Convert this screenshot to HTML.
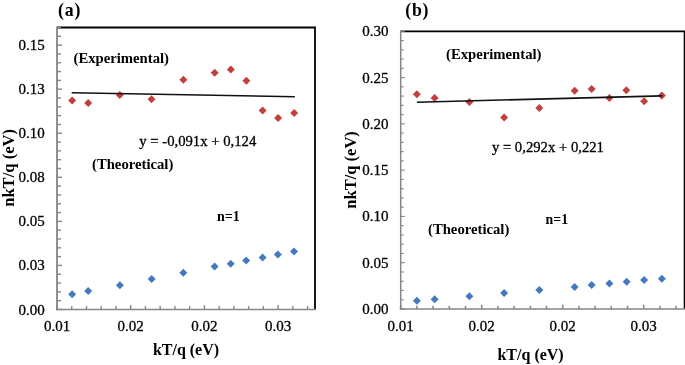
<!DOCTYPE html>
<html><head><meta charset="utf-8"><title>Chart</title>
<style>html,body{margin:0;padding:0;background:#fff;width:685px;height:365px;overflow:hidden}svg{display:block;will-change:transform}.n{stroke:#000;stroke-width:0.3px}</style>
</head><body>
<svg width="685" height="365" viewBox="0 0 685 365">
<rect width="685" height="365" fill="#fff"/>
<path d="M57.00 27.50H315.00V309.50" fill="none" stroke="#000" stroke-width="1.8"/>
<line x1="57.00" y1="309.50" x2="62.00" y2="309.50" stroke="#868686" stroke-width="1.4"/>
<line x1="57.00" y1="300.69" x2="61.00" y2="300.69" stroke="#868686" stroke-width="1.4"/>
<line x1="57.00" y1="291.88" x2="61.00" y2="291.88" stroke="#868686" stroke-width="1.4"/>
<line x1="57.00" y1="283.06" x2="61.00" y2="283.06" stroke="#868686" stroke-width="1.4"/>
<line x1="57.00" y1="274.25" x2="61.00" y2="274.25" stroke="#868686" stroke-width="1.4"/>
<line x1="57.00" y1="265.44" x2="62.00" y2="265.44" stroke="#868686" stroke-width="1.4"/>
<line x1="57.00" y1="256.62" x2="61.00" y2="256.62" stroke="#868686" stroke-width="1.4"/>
<line x1="57.00" y1="247.81" x2="61.00" y2="247.81" stroke="#868686" stroke-width="1.4"/>
<line x1="57.00" y1="239.00" x2="61.00" y2="239.00" stroke="#868686" stroke-width="1.4"/>
<line x1="57.00" y1="230.19" x2="61.00" y2="230.19" stroke="#868686" stroke-width="1.4"/>
<line x1="57.00" y1="221.38" x2="62.00" y2="221.38" stroke="#868686" stroke-width="1.4"/>
<line x1="57.00" y1="212.56" x2="61.00" y2="212.56" stroke="#868686" stroke-width="1.4"/>
<line x1="57.00" y1="203.75" x2="61.00" y2="203.75" stroke="#868686" stroke-width="1.4"/>
<line x1="57.00" y1="194.94" x2="61.00" y2="194.94" stroke="#868686" stroke-width="1.4"/>
<line x1="57.00" y1="186.12" x2="61.00" y2="186.12" stroke="#868686" stroke-width="1.4"/>
<line x1="57.00" y1="177.31" x2="62.00" y2="177.31" stroke="#868686" stroke-width="1.4"/>
<line x1="57.00" y1="168.50" x2="61.00" y2="168.50" stroke="#868686" stroke-width="1.4"/>
<line x1="57.00" y1="159.69" x2="61.00" y2="159.69" stroke="#868686" stroke-width="1.4"/>
<line x1="57.00" y1="150.88" x2="61.00" y2="150.88" stroke="#868686" stroke-width="1.4"/>
<line x1="57.00" y1="142.06" x2="61.00" y2="142.06" stroke="#868686" stroke-width="1.4"/>
<line x1="57.00" y1="133.25" x2="62.00" y2="133.25" stroke="#868686" stroke-width="1.4"/>
<line x1="57.00" y1="124.44" x2="61.00" y2="124.44" stroke="#868686" stroke-width="1.4"/>
<line x1="57.00" y1="115.62" x2="61.00" y2="115.62" stroke="#868686" stroke-width="1.4"/>
<line x1="57.00" y1="106.81" x2="61.00" y2="106.81" stroke="#868686" stroke-width="1.4"/>
<line x1="57.00" y1="98.00" x2="61.00" y2="98.00" stroke="#868686" stroke-width="1.4"/>
<line x1="57.00" y1="89.19" x2="62.00" y2="89.19" stroke="#868686" stroke-width="1.4"/>
<line x1="57.00" y1="80.38" x2="61.00" y2="80.38" stroke="#868686" stroke-width="1.4"/>
<line x1="57.00" y1="71.56" x2="61.00" y2="71.56" stroke="#868686" stroke-width="1.4"/>
<line x1="57.00" y1="62.75" x2="61.00" y2="62.75" stroke="#868686" stroke-width="1.4"/>
<line x1="57.00" y1="53.94" x2="61.00" y2="53.94" stroke="#868686" stroke-width="1.4"/>
<line x1="57.00" y1="45.12" x2="62.00" y2="45.12" stroke="#868686" stroke-width="1.4"/>
<line x1="57.00" y1="36.31" x2="61.00" y2="36.31" stroke="#868686" stroke-width="1.4"/>
<line x1="57.00" y1="27.50" x2="61.00" y2="27.50" stroke="#868686" stroke-width="1.4"/>
<line x1="57.00" y1="309.50" x2="57.00" y2="305.10" stroke="#868686" stroke-width="1.4"/>
<line x1="71.74" y1="309.50" x2="71.74" y2="306.10" stroke="#868686" stroke-width="1.4"/>
<line x1="86.48" y1="309.50" x2="86.48" y2="306.10" stroke="#868686" stroke-width="1.4"/>
<line x1="101.22" y1="309.50" x2="101.22" y2="306.10" stroke="#868686" stroke-width="1.4"/>
<line x1="115.96" y1="309.50" x2="115.96" y2="306.10" stroke="#868686" stroke-width="1.4"/>
<line x1="130.70" y1="309.50" x2="130.70" y2="305.10" stroke="#868686" stroke-width="1.4"/>
<line x1="145.44" y1="309.50" x2="145.44" y2="306.10" stroke="#868686" stroke-width="1.4"/>
<line x1="160.18" y1="309.50" x2="160.18" y2="306.10" stroke="#868686" stroke-width="1.4"/>
<line x1="174.92" y1="309.50" x2="174.92" y2="306.10" stroke="#868686" stroke-width="1.4"/>
<line x1="189.66" y1="309.50" x2="189.66" y2="306.10" stroke="#868686" stroke-width="1.4"/>
<line x1="204.40" y1="309.50" x2="204.40" y2="305.10" stroke="#868686" stroke-width="1.4"/>
<line x1="219.14" y1="309.50" x2="219.14" y2="306.10" stroke="#868686" stroke-width="1.4"/>
<line x1="233.88" y1="309.50" x2="233.88" y2="306.10" stroke="#868686" stroke-width="1.4"/>
<line x1="248.62" y1="309.50" x2="248.62" y2="306.10" stroke="#868686" stroke-width="1.4"/>
<line x1="263.36" y1="309.50" x2="263.36" y2="306.10" stroke="#868686" stroke-width="1.4"/>
<line x1="278.10" y1="309.50" x2="278.10" y2="305.10" stroke="#868686" stroke-width="1.4"/>
<line x1="292.84" y1="309.50" x2="292.84" y2="306.10" stroke="#868686" stroke-width="1.4"/>
<line x1="307.58" y1="309.50" x2="307.58" y2="306.10" stroke="#868686" stroke-width="1.4"/>
<line x1="57.00" y1="26.60" x2="57.00" y2="310.30" stroke="#868686" stroke-width="1.8"/>
<line x1="56.10" y1="309.50" x2="315.90" y2="309.50" stroke="#868686" stroke-width="1.6"/>
<text x="44.70" y="314.50" text-anchor="end" font-size="15" class="n" font-family="Liberation Serif">0.00</text>
<text x="44.70" y="270.44" text-anchor="end" font-size="15" class="n" font-family="Liberation Serif">0.03</text>
<text x="44.70" y="226.38" text-anchor="end" font-size="15" class="n" font-family="Liberation Serif">0.05</text>
<text x="44.70" y="182.31" text-anchor="end" font-size="15" class="n" font-family="Liberation Serif">0.08</text>
<text x="44.70" y="138.25" text-anchor="end" font-size="15" class="n" font-family="Liberation Serif">0.10</text>
<text x="44.70" y="94.19" text-anchor="end" font-size="15" class="n" font-family="Liberation Serif">0.13</text>
<text x="44.70" y="50.12" text-anchor="end" font-size="15" class="n" font-family="Liberation Serif">0.15</text>
<text x="57.00" y="331.3" text-anchor="middle" font-size="15" class="n" font-family="Liberation Serif">0.01</text>
<text x="130.70" y="331.3" text-anchor="middle" font-size="15" class="n" font-family="Liberation Serif">0.02</text>
<text x="204.40" y="331.3" text-anchor="middle" font-size="15" class="n" font-family="Liberation Serif">0.02</text>
<text x="278.10" y="331.3" text-anchor="middle" font-size="15" class="n" font-family="Liberation Serif">0.03</text>
<path d="M72.10 96.40L76.10 100.40L72.10 104.40L68.10 100.40Z" fill="#C0403E"/>
<path d="M88.20 98.90L92.20 102.90L88.20 106.90L84.20 102.90Z" fill="#C0403E"/>
<path d="M119.80 91.00L123.80 95.00L119.80 99.00L115.80 95.00Z" fill="#C0403E"/>
<path d="M151.50 95.30L155.50 99.30L151.50 103.30L147.50 99.30Z" fill="#C0403E"/>
<path d="M183.40 75.70L187.40 79.70L183.40 83.70L179.40 79.70Z" fill="#C0403E"/>
<path d="M214.70 68.70L218.70 72.70L214.70 76.70L210.70 72.70Z" fill="#C0403E"/>
<path d="M230.80 65.50L234.80 69.50L230.80 73.50L226.80 69.50Z" fill="#C0403E"/>
<path d="M246.40 76.70L250.40 80.70L246.40 84.70L242.40 80.70Z" fill="#C0403E"/>
<path d="M262.60 106.40L266.60 110.40L262.60 114.40L258.60 110.40Z" fill="#C0403E"/>
<path d="M278.10 113.90L282.10 117.90L278.10 121.90L274.10 117.90Z" fill="#C0403E"/>
<path d="M294.20 109.00L298.20 113.00L294.20 117.00L290.20 113.00Z" fill="#C0403E"/>
<path d="M72.10 290.30L76.10 294.30L72.10 298.30L68.10 294.30Z" fill="#4479C0"/>
<path d="M88.20 287.10L92.20 291.10L88.20 295.10L84.20 291.10Z" fill="#4479C0"/>
<path d="M119.90 281.30L123.90 285.30L119.90 289.30L115.90 285.30Z" fill="#4479C0"/>
<path d="M151.70 275.00L155.70 279.00L151.70 283.00L147.70 279.00Z" fill="#4479C0"/>
<path d="M183.30 268.70L187.30 272.70L183.30 276.70L179.30 272.70Z" fill="#4479C0"/>
<path d="M214.60 262.60L218.60 266.60L214.60 270.60L210.60 266.60Z" fill="#4479C0"/>
<path d="M230.70 259.70L234.70 263.70L230.70 267.70L226.70 263.70Z" fill="#4479C0"/>
<path d="M246.20 256.60L250.20 260.60L246.20 264.60L242.20 260.60Z" fill="#4479C0"/>
<path d="M262.60 253.60L266.60 257.60L262.60 261.60L258.60 257.60Z" fill="#4479C0"/>
<path d="M277.90 250.50L281.90 254.50L277.90 258.50L273.90 254.50Z" fill="#4479C0"/>
<path d="M294.00 247.40L298.00 251.40L294.00 255.40L290.00 251.40Z" fill="#4479C0"/>
<line x1="71.7" y1="92.7" x2="294.8" y2="96.7" stroke="#111" stroke-width="1.6"/>
<text x="58.0" y="15.8" font-size="17.8" font-weight="bold" text-anchor="start" font-family="Liberation Serif" letter-spacing="0.8">(a)</text>
<text x="73.5" y="62.6" font-size="14.7" font-weight="bold" text-anchor="start" font-family="Liberation Serif" >(Experimental)</text>
<text x="139.3" y="146.0" font-size="14.7" class="n" text-anchor="start" font-family="Liberation Serif" >y = -0,091x + 0,124</text>
<text x="92.0" y="168.7" font-size="14.7" font-weight="bold" text-anchor="start" font-family="Liberation Serif" >(Theoretical)</text>
<text x="217.0" y="220.8" font-size="14.0" font-weight="bold" text-anchor="start" font-family="Liberation Serif" >n=1</text>
<text x="186.0" y="354.5" font-size="16" font-weight="bold" text-anchor="middle" font-family="Liberation Serif" >kT/q (eV)</text>
<text x="0" y="0" font-size="16.6" font-weight="bold" text-anchor="middle" font-family="Liberation Serif" transform="translate(14.1 167.9) rotate(-90)">nkT/q (eV)</text>
<path d="M400.70 31.30H684.60V309.00" fill="none" stroke="#000" stroke-width="1.8"/>
<line x1="400.70" y1="309.00" x2="404.80" y2="309.00" stroke="#868686" stroke-width="1.1"/>
<line x1="400.70" y1="299.74" x2="403.70" y2="299.74" stroke="#868686" stroke-width="1.1"/>
<line x1="400.70" y1="290.49" x2="403.70" y2="290.49" stroke="#868686" stroke-width="1.1"/>
<line x1="400.70" y1="281.23" x2="403.70" y2="281.23" stroke="#868686" stroke-width="1.1"/>
<line x1="400.70" y1="271.97" x2="403.70" y2="271.97" stroke="#868686" stroke-width="1.1"/>
<line x1="400.70" y1="262.72" x2="404.80" y2="262.72" stroke="#868686" stroke-width="1.1"/>
<line x1="400.70" y1="253.46" x2="403.70" y2="253.46" stroke="#868686" stroke-width="1.1"/>
<line x1="400.70" y1="244.20" x2="403.70" y2="244.20" stroke="#868686" stroke-width="1.1"/>
<line x1="400.70" y1="234.95" x2="403.70" y2="234.95" stroke="#868686" stroke-width="1.1"/>
<line x1="400.70" y1="225.69" x2="403.70" y2="225.69" stroke="#868686" stroke-width="1.1"/>
<line x1="400.70" y1="216.43" x2="404.80" y2="216.43" stroke="#868686" stroke-width="1.1"/>
<line x1="400.70" y1="207.18" x2="403.70" y2="207.18" stroke="#868686" stroke-width="1.1"/>
<line x1="400.70" y1="197.92" x2="403.70" y2="197.92" stroke="#868686" stroke-width="1.1"/>
<line x1="400.70" y1="188.66" x2="403.70" y2="188.66" stroke="#868686" stroke-width="1.1"/>
<line x1="400.70" y1="179.41" x2="403.70" y2="179.41" stroke="#868686" stroke-width="1.1"/>
<line x1="400.70" y1="170.15" x2="404.80" y2="170.15" stroke="#868686" stroke-width="1.1"/>
<line x1="400.70" y1="160.89" x2="403.70" y2="160.89" stroke="#868686" stroke-width="1.1"/>
<line x1="400.70" y1="151.64" x2="403.70" y2="151.64" stroke="#868686" stroke-width="1.1"/>
<line x1="400.70" y1="142.38" x2="403.70" y2="142.38" stroke="#868686" stroke-width="1.1"/>
<line x1="400.70" y1="133.12" x2="403.70" y2="133.12" stroke="#868686" stroke-width="1.1"/>
<line x1="400.70" y1="123.87" x2="404.80" y2="123.87" stroke="#868686" stroke-width="1.1"/>
<line x1="400.70" y1="114.61" x2="403.70" y2="114.61" stroke="#868686" stroke-width="1.1"/>
<line x1="400.70" y1="105.35" x2="403.70" y2="105.35" stroke="#868686" stroke-width="1.1"/>
<line x1="400.70" y1="96.10" x2="403.70" y2="96.10" stroke="#868686" stroke-width="1.1"/>
<line x1="400.70" y1="86.84" x2="403.70" y2="86.84" stroke="#868686" stroke-width="1.1"/>
<line x1="400.70" y1="77.58" x2="404.80" y2="77.58" stroke="#868686" stroke-width="1.1"/>
<line x1="400.70" y1="68.33" x2="403.70" y2="68.33" stroke="#868686" stroke-width="1.1"/>
<line x1="400.70" y1="59.07" x2="403.70" y2="59.07" stroke="#868686" stroke-width="1.1"/>
<line x1="400.70" y1="49.81" x2="403.70" y2="49.81" stroke="#868686" stroke-width="1.1"/>
<line x1="400.70" y1="40.56" x2="403.70" y2="40.56" stroke="#868686" stroke-width="1.1"/>
<line x1="400.70" y1="31.30" x2="404.80" y2="31.30" stroke="#868686" stroke-width="1.1"/>
<line x1="400.70" y1="309.00" x2="400.70" y2="304.70" stroke="#868686" stroke-width="1.5"/>
<line x1="416.90" y1="309.00" x2="416.90" y2="305.80" stroke="#868686" stroke-width="1.5"/>
<line x1="433.10" y1="309.00" x2="433.10" y2="305.80" stroke="#868686" stroke-width="1.5"/>
<line x1="449.30" y1="309.00" x2="449.30" y2="305.80" stroke="#868686" stroke-width="1.5"/>
<line x1="465.50" y1="309.00" x2="465.50" y2="305.80" stroke="#868686" stroke-width="1.5"/>
<line x1="481.70" y1="309.00" x2="481.70" y2="304.70" stroke="#868686" stroke-width="1.5"/>
<line x1="497.90" y1="309.00" x2="497.90" y2="305.80" stroke="#868686" stroke-width="1.5"/>
<line x1="514.10" y1="309.00" x2="514.10" y2="305.80" stroke="#868686" stroke-width="1.5"/>
<line x1="530.30" y1="309.00" x2="530.30" y2="305.80" stroke="#868686" stroke-width="1.5"/>
<line x1="546.50" y1="309.00" x2="546.50" y2="305.80" stroke="#868686" stroke-width="1.5"/>
<line x1="562.70" y1="309.00" x2="562.70" y2="304.70" stroke="#868686" stroke-width="1.5"/>
<line x1="578.90" y1="309.00" x2="578.90" y2="305.80" stroke="#868686" stroke-width="1.5"/>
<line x1="595.10" y1="309.00" x2="595.10" y2="305.80" stroke="#868686" stroke-width="1.5"/>
<line x1="611.30" y1="309.00" x2="611.30" y2="305.80" stroke="#868686" stroke-width="1.5"/>
<line x1="627.50" y1="309.00" x2="627.50" y2="305.80" stroke="#868686" stroke-width="1.5"/>
<line x1="643.70" y1="309.00" x2="643.70" y2="304.70" stroke="#868686" stroke-width="1.5"/>
<line x1="659.90" y1="309.00" x2="659.90" y2="305.80" stroke="#868686" stroke-width="1.5"/>
<line x1="676.10" y1="309.00" x2="676.10" y2="305.80" stroke="#868686" stroke-width="1.5"/>
<line x1="400.70" y1="30.40" x2="400.70" y2="309.80" stroke="#868686" stroke-width="1.5"/>
<line x1="399.80" y1="309.00" x2="685.50" y2="309.00" stroke="#868686" stroke-width="1.6"/>
<text x="388.40" y="314.00" text-anchor="end" font-size="15" class="n" font-family="Liberation Serif">0.00</text>
<text x="388.40" y="267.72" text-anchor="end" font-size="15" class="n" font-family="Liberation Serif">0.05</text>
<text x="388.40" y="221.43" text-anchor="end" font-size="15" class="n" font-family="Liberation Serif">0.10</text>
<text x="388.40" y="175.15" text-anchor="end" font-size="15" class="n" font-family="Liberation Serif">0.15</text>
<text x="388.40" y="128.87" text-anchor="end" font-size="15" class="n" font-family="Liberation Serif">0.20</text>
<text x="388.40" y="82.58" text-anchor="end" font-size="15" class="n" font-family="Liberation Serif">0.25</text>
<text x="388.40" y="36.30" text-anchor="end" font-size="15" class="n" font-family="Liberation Serif">0.30</text>
<text x="400.70" y="331.3" text-anchor="middle" font-size="15" class="n" font-family="Liberation Serif">0.01</text>
<text x="481.70" y="331.3" text-anchor="middle" font-size="15" class="n" font-family="Liberation Serif">0.02</text>
<text x="562.70" y="331.3" text-anchor="middle" font-size="15" class="n" font-family="Liberation Serif">0.02</text>
<text x="643.70" y="331.3" text-anchor="middle" font-size="15" class="n" font-family="Liberation Serif">0.03</text>
<path d="M416.90 90.30L420.90 94.30L416.90 98.30L412.90 94.30Z" fill="#C0403E"/>
<path d="M434.60 94.00L438.60 98.00L434.60 102.00L430.60 98.00Z" fill="#C0403E"/>
<path d="M469.40 98.00L473.40 102.00L469.40 106.00L465.40 102.00Z" fill="#C0403E"/>
<path d="M504.10 113.40L508.10 117.40L504.10 121.40L500.10 117.40Z" fill="#C0403E"/>
<path d="M539.30 104.00L543.30 108.00L539.30 112.00L535.30 108.00Z" fill="#C0403E"/>
<path d="M574.60 86.70L578.60 90.70L574.60 94.70L570.60 90.70Z" fill="#C0403E"/>
<path d="M591.60 84.90L595.60 88.90L591.60 92.90L587.60 88.90Z" fill="#C0403E"/>
<path d="M609.40 94.10L613.40 98.10L609.40 102.10L605.40 98.10Z" fill="#C0403E"/>
<path d="M626.30 86.30L630.30 90.30L626.30 94.30L622.30 90.30Z" fill="#C0403E"/>
<path d="M644.10 97.20L648.10 101.20L644.10 105.20L640.10 101.20Z" fill="#C0403E"/>
<path d="M661.90 91.40L665.90 95.40L661.90 99.40L657.90 95.40Z" fill="#C0403E"/>
<path d="M416.90 296.70L420.90 300.70L416.90 304.70L412.90 300.70Z" fill="#4479C0"/>
<path d="M434.60 295.20L438.60 299.20L434.60 303.20L430.60 299.20Z" fill="#4479C0"/>
<path d="M469.40 292.20L473.40 296.20L469.40 300.20L465.40 296.20Z" fill="#4479C0"/>
<path d="M504.10 289.10L508.10 293.10L504.10 297.10L500.10 293.10Z" fill="#4479C0"/>
<path d="M539.30 286.00L543.30 290.00L539.30 294.00L535.30 290.00Z" fill="#4479C0"/>
<path d="M574.60 282.90L578.60 286.90L574.60 290.90L570.60 286.90Z" fill="#4479C0"/>
<path d="M591.60 281.00L595.60 285.00L591.60 289.00L587.60 285.00Z" fill="#4479C0"/>
<path d="M609.40 279.40L613.40 283.40L609.40 287.40L605.40 283.40Z" fill="#4479C0"/>
<path d="M626.70 277.80L630.70 281.80L626.70 285.80L622.70 281.80Z" fill="#4479C0"/>
<path d="M644.10 276.10L648.10 280.10L644.10 284.10L640.10 280.10Z" fill="#4479C0"/>
<path d="M661.90 274.70L665.90 278.70L661.90 282.70L657.90 278.70Z" fill="#4479C0"/>
<line x1="416.9" y1="102.2" x2="662.2" y2="95.9" stroke="#111" stroke-width="1.6"/>
<text x="405.2" y="15.8" font-size="17.8" font-weight="bold" text-anchor="start" font-family="Liberation Serif" letter-spacing="0.8">(b)</text>
<text x="446.0" y="59.2" font-size="14.7" font-weight="bold" text-anchor="start" font-family="Liberation Serif" >(Experimental)</text>
<text x="491.9" y="151.7" font-size="14.7" class="n" text-anchor="start" font-family="Liberation Serif" >y = 0,292x + 0,221</text>
<text x="428.0" y="234.4" font-size="14.7" font-weight="bold" text-anchor="start" font-family="Liberation Serif" >(Theoretical)</text>
<text x="545.6" y="224.4" font-size="13.8" font-weight="bold" text-anchor="start" font-family="Liberation Serif" >n=1</text>
<text x="530.6" y="359.5" font-size="16" font-weight="bold" text-anchor="middle" font-family="Liberation Serif" >kT/q (eV)</text>
<text x="0" y="0" font-size="16.5" font-weight="bold" text-anchor="middle" font-family="Liberation Serif" transform="translate(356.4 169.9) rotate(-90)">nkT/q (eV)</text>
</svg>
</body></html>
